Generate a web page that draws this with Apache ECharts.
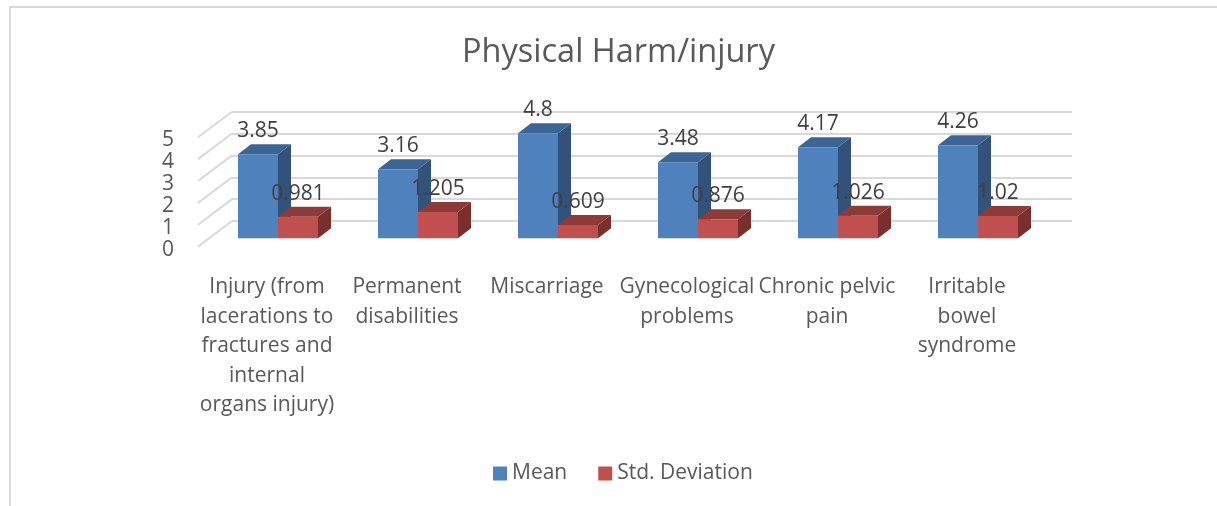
<!DOCTYPE html>
<html>
<head>
<meta charset="utf-8">
<title>Physical Harm/injury</title>
<script src="https://cdn.jsdelivr.net/npm/echarts@6/dist/echarts.min.js"></script>
<style>
  html, body { margin: 0; padding: 0; background: #fff; }
  #frame { position: absolute; left: 9px; top: 6px; right: 0; bottom: 0; border-top: 2px solid #d9d9d9; border-left: 2px solid #d9d9d9; }
  #chart { position: absolute; left: 0; top: 0; width: 1217px; height: 506px; }
</style>
</head>
<body>
<div id="frame"></div>
<div id="chart"></div>
<script>
const categories = [
  'Injury (from\nlacerations to\nfractures and\ninternal\norgans injury)',
  'Permanent\ndisabilities',
  'Miscarriage',
  'Gynecological\nproblems',
  'Chronic pelvic\npain',
  'Irritable\nbowel\nsyndrome'
];
const meanValues = [3.85, 3.16, 4.8, 3.48, 4.17, 4.26];
const stdValues = [0.981, 1.205, 0.609, 0.876, 1.026, 1.02];
const yTicks = [0, 1, 2, 3, 4, 5];

const fontName = '"Open Sans", sans-serif';
const depthX = 13;
const depthY = 10;
const barRatio = 2 / 7;

// one 3D column: front, top and side faces, then the value label
function column(colors, side) {
  return function (params, api) {
    const value = api.value(1);
    const base = api.coord([api.value(0), 0]);
    const top = api.coord([api.value(0), value]);
    const w = api.size([1, 0])[0] * barRatio;
    const x0 = side < 0 ? base[0] - w : base[0];
    const x1 = x0 + w;
    return {
      type: 'group',
      children: [
        { type: 'polygon', shape: { points: [[x1, top[1]], [x1 + depthX, top[1] - depthY], [x1 + depthX, base[1] - depthY], [x1, base[1]]] }, style: { fill: colors.side } },
        { type: 'polygon', shape: { points: [[x0, top[1]], [x0 + depthX, top[1] - depthY], [x1 + depthX, top[1] - depthY], [x1, top[1]]] }, style: { fill: colors.top } },
        { type: 'rect', shape: { x: x0, y: top[1], width: w, height: base[1] - top[1] }, style: { fill: colors.front } },
        { type: 'text', style: { x: (x0 + x1) / 2, y: top[1] - 23, text: String(value), fill: '#404040', font: '21px ' + fontName, align: 'center', verticalAlign: 'middle' } }
      ]
    };
  };
}

const chart = echarts.init(document.getElementById('chart'), null, { renderer: 'canvas' });
chart.setOption({
  animation: false,
  title: {
    text: 'Physical Harm/injury',
    left: 613.5,
    top: 31,
    textAlign: 'center',
    textStyle: { fontFamily: fontName, fontSize: 32.5, fontWeight: 'normal', color: '#595959' }
  },
  legend: {
    data: ['Mean', 'Std. Deviation'],
    left: 488,
    top: 458,
    itemWidth: 14,
    itemHeight: 14,
    itemGap: 31,
    icon: 'rect',
    textStyle: { fontFamily: fontName, fontSize: 21, color: '#595959' }
  },
  grid: [
    // front edge: tick labels and category labels
    { left: 197, width: 840, top: 140.3, height: 109.4 },
    // back wall: gridlines
    { left: 232, width: 840, top: 111.7, height: 109.3 },
    // bars, set in the middle of the floor depth
    { left: 208, width: 840, top: 129, height: 109.3 }
  ],
  xAxis: [
    {
      gridIndex: 0, type: 'category', data: categories,
      axisLine: { show: false }, axisTick: { show: false },
      axisLabel: { interval: 0, margin: 23, lineHeight: 29.4, fontFamily: fontName, fontSize: 21, color: '#595959' }
    },
    { gridIndex: 1, type: 'category', data: categories, axisLine: { show: false }, axisTick: { show: false }, axisLabel: { show: false } },
    { gridIndex: 2, type: 'category', data: categories, axisLine: { show: false }, axisTick: { show: false }, axisLabel: { show: false } }
  ],
  yAxis: [
    {
      gridIndex: 0, type: 'value', min: 0, max: 5, interval: 1,
      axisLine: { show: false }, axisTick: { show: false }, splitLine: { show: false },
      axisLabel: { margin: 23, fontFamily: fontName, fontSize: 21, color: '#595959' }
    },
    {
      gridIndex: 1, type: 'value', min: 0, max: 5, interval: 1,
      axisLine: { show: false }, axisTick: { show: false }, axisLabel: { show: false },
      splitLine: { show: true, lineStyle: { color: '#d9d9d9', width: 2 } }
    },
    {
      gridIndex: 2, type: 'value', min: 0, max: 5, interval: 1,
      axisLine: { show: false }, axisTick: { show: false }, axisLabel: { show: false }, splitLine: { show: false }
    }
  ],
  series: [
    {
      // diagonal gridlines on the side wall
      type: 'custom', xAxisIndex: 1, yAxisIndex: 1, silent: true,
      data: yTicks.map(function (t) { return [0, t]; }),
      renderItem: function (params, api) {
        const p = api.coord([0, api.value(1)]);
        const x = params.coordSys.x;
        return { type: 'line', shape: { x1: x, y1: p[1], x2: x - 34, y2: p[1] + 25.6 }, style: { stroke: '#d9d9d9', lineWidth: 2 } };
      }
    },
    {
      name: 'Mean', type: 'custom', xAxisIndex: 2, yAxisIndex: 2,
      itemStyle: { color: '#4f81bd' },
      data: meanValues.map(function (v, i) { return [i, v]; }),
      renderItem: column({ front: '#4f81bd', top: '#3b6595', side: '#32527c' }, -1)
    },
    {
      name: 'Std. Deviation', type: 'custom', xAxisIndex: 2, yAxisIndex: 2,
      itemStyle: { color: '#c0504d' },
      data: stdValues.map(function (v, i) { return [i, v]; }),
      renderItem: column({ front: '#c0504d', top: '#8e3a38', side: '#7b2f2d' }, 1)
    }
  ]
});
</script>
</body>
</html>
